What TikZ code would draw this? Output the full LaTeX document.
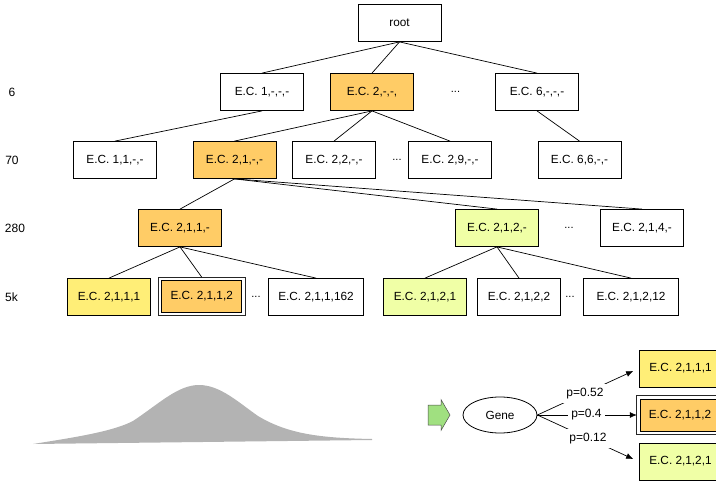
\documentclass[tikz,border=0pt]{standalone}
\usepackage{fontspec}
\setmainfont{Liberation Sans}
\usetikzlibrary{arrows.meta,shapes.geometric}
\definecolor{ecorange}{HTML}{FFCC66}
\definecolor{ecyellow}{HTML}{FFEE77}
\definecolor{eclime}{HTML}{F0FFA6}
\definecolor{arrowgreen}{HTML}{A0E080}
\definecolor{curvegray}{HTML}{B3B3B3}
\tikzset{
  ecbox/.style={draw, line width=0.8pt, minimum width=83pt, minimum height=37pt, inner sep=0pt, fill=white, font=\fontsize{11.8}{14}\selectfont},
  wide/.style={minimum width=95pt},
  sel/.style={minimum width=80pt, minimum height=32pt},
  outerframe/.style={draw=black!85, line width=0.7pt},
  dots/.style={font=\fontsize{11}{13}\selectfont, inner sep=0pt},
  lvl/.style={font=\fontsize{12}{14}\selectfont, inner sep=0pt},
  edge/.style={line width=0.7pt},
  plbl/.style={fill=white, inner sep=4pt, font=\fontsize{12}{14}\selectfont},
  parr/.style={line width=0.7pt, -{Latex[length=7pt,width=6pt]}}
}
\begin{document}
\begin{tikzpicture}[x=1pt,y=-1pt]
\useasboundingbox (0,0) rectangle (716,482);
\clip (0,0) rectangle (716,482);
% level labels
\node[lvl] (l6) at (12,92) {6};
\node[lvl] (l70) at (12,160) {70};
\node[lvl] (l280) at (15,228) {280};
\node[lvl] (l5k) at (11.5,297) {5k};
% tree
\node[ecbox] (root) at (399.5,23) {root};
\node[ecbox] (a1) at (262,92) {E.C. 1,-,-,-};
\node[ecbox, fill=ecorange] (a2) at (372,92) {E.C. 2,-,-,};
\node[dots] (d1) at (455.5,92) {...};
\node[ecbox] (a6) at (537,92) {E.C. 6,-,-,-};
\node[ecbox] (b11) at (115,160) {E.C. 1,1,-,-};
\node[ecbox, fill=ecorange] (b21) at (234.5,160) {E.C. 2,1,-,-};
\node[ecbox] (b22) at (334,160) {E.C. 2,2,-,-};
\node[dots] (d2) at (397,160) {...};
\node[ecbox] (b29) at (450,160) {E.C. 2,9,-,-};
\node[ecbox] (b66) at (579.5,160) {E.C. 6,6,-,-};
\node[ecbox, fill=ecorange] (c211) at (180,228) {E.C. 2,1,1,-};
\node[ecbox, fill=eclime] (c212) at (497,228) {E.C. 2,1,2,-};
\node[dots] (d3) at (569,228) {...};
\node[ecbox] (c214) at (642,228) {E.C. 2,1,4,-};
\node[ecbox, fill=ecyellow] (e2111) at (109,297) {E.C. 2,1,1,1};
\node[ecbox, sel, fill=ecorange] (e2112) at (201.7,296.3) {E.C. 2,1,1,2};
\draw[outerframe] ([shift={(-2.8pt,2.8pt)}]e2112.north west) rectangle ([shift={(2.8pt,-2.8pt)}]e2112.south east);
\node[dots] (d4) at (256,297) {...};
\node[ecbox, wide] (e21162) at (316,297) {E.C. 2,1,1,162};
\node[ecbox, fill=eclime] (e2121) at (425,297) {E.C. 2,1,2,1};
\node[ecbox] (e2122) at (519,297) {E.C. 2,1,2,2};
\node[dots] (d5) at (570,297) {...};
\node[ecbox, wide] (e21212) at (631,297) {E.C. 2,1,2,12};
% tree edges
\draw[edge] (root.south) -- (a1.north);
\draw[edge] (root.south) -- (a2.north);
\draw[edge] (root.south) -- (a6.north);
\draw[edge] (a1.south) -- (b11.north);
\draw[edge] (a2.south) -- (b21.north);
\draw[edge] (a2.south) -- (b22.north);
\draw[edge] (a2.south) -- (b29.north);
\draw[edge] (a6.south) -- (b66.north);
\draw[edge] (b21.south) -- (c211.north);
\draw[edge] (b21.south) -- (c212.north);
\draw[edge] (b21.south) -- (c214.north);
\draw[edge] (c211.south) -- (e2111.north);
\draw[edge] (c211.south) -- ([yshift=2.8pt]e2112.north);
\draw[edge] (c211.south) -- (e21162.north);
\draw[edge] (c212.south) -- (e2121.north);
\draw[edge] (c212.south) -- (e2122.north);
\draw[edge] (c212.south) -- (e21212.north);
% bell curve
\fill[curvegray] (33,444) .. controls (70,438) and (112,432) .. (133,421)
  .. controls (160,403) and (178,385) .. (199,385)
  .. controls (220,385) and (238,402) .. (258,416)
  .. controls (288,434) and (320,438) .. (372,439)
  -- (372,440) -- cycle;
% green arrow
\filldraw[fill=arrowgreen, draw=black!70, line width=0.5pt]
  (428,405) -- (441,405) -- (441,399.5) -- (450,415) -- (441,430.5) -- (441,425) -- (428,425) -- cycle;
% gene and targets
\node[draw, ellipse, line width=0.8pt, minimum width=74pt, minimum height=36pt, inner sep=0pt, font=\fontsize{11.8}{14}\selectfont] (gene) at (500,415) {Gene};
\node[ecbox, fill=ecyellow] (r1) at (680.5,368.5) {E.C. 2,1,1,1};
\node[ecbox, sel, fill=ecorange] (r2) at (680,415) {E.C. 2,1,1,2};
\draw[outerframe] ([shift={(-2.8pt,2.8pt)}]r2.north west) rectangle ([shift={(2.8pt,-2.8pt)}]r2.south east);
\node[ecbox, fill=eclime] (r3) at (680.5,461.5) {E.C. 2,1,2,1};
\draw[parr, shorten >=6pt] (gene.east) -- node[plbl, pos=0.47] {p=0.52} (r1.west);
\draw[parr, shorten >=2.8pt] (gene.east) -- node[plbl, pos=0.48, inner sep=3pt] {p=0.4} (r2.west);
\draw[parr, shorten >=6pt] (gene.east) -- node[plbl, pos=0.5] {p=0.12} (r3.west);
\end{tikzpicture}
\end{document}
